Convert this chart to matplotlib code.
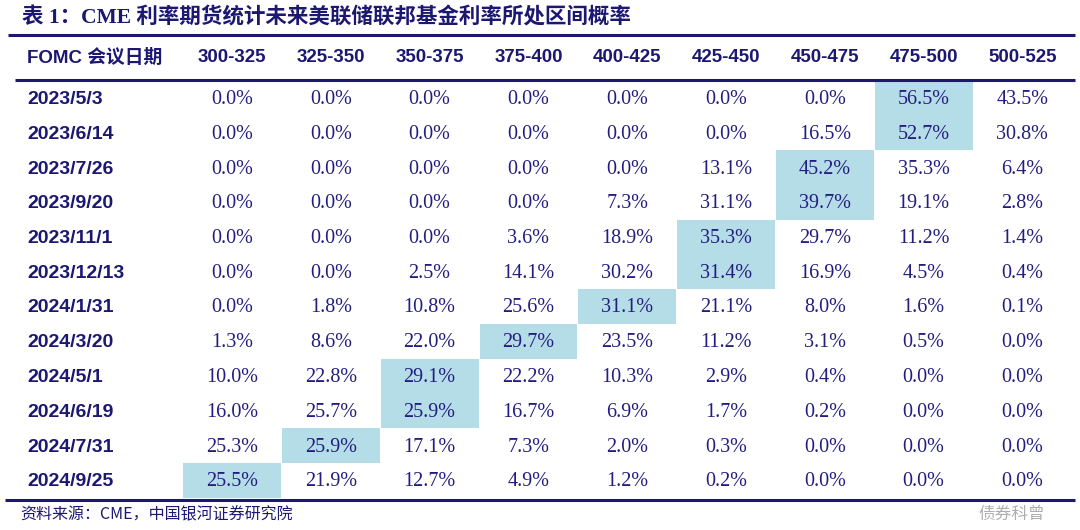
import matplotlib
matplotlib.use("Agg")
import matplotlib.pyplot as plt
from matplotlib.patches import Rectangle
import numpy as np

dates = ["2023/5/3", "2023/6/14", "2023/7/26", "2023/9/20", "2023/11/1", "2023/12/13",
         "2024/1/31", "2024/3/20", "2024/5/1", "2024/6/19", "2024/7/31", "2024/9/25"]
ranges = ["300-325", "325-350", "350-375", "375-400", "400-425", "425-450",
          "450-475", "475-500", "500-525"]
probs = [
    [0.0, 0.0, 0.0, 0.0, 0.0, 0.0, 0.0, 56.5, 43.5],
    [0.0, 0.0, 0.0, 0.0, 0.0, 0.0, 16.5, 52.7, 30.8],
    [0.0, 0.0, 0.0, 0.0, 0.0, 13.1, 45.2, 35.3, 6.4],
    [0.0, 0.0, 0.0, 0.0, 7.3, 31.1, 39.7, 19.1, 2.8],
    [0.0, 0.0, 0.0, 3.6, 18.9, 35.3, 29.7, 11.2, 1.4],
    [0.0, 0.0, 2.5, 14.1, 30.2, 31.4, 16.9, 4.5, 0.4],
    [0.0, 1.8, 10.8, 25.6, 31.1, 21.1, 8.0, 1.6, 0.1],
    [1.3, 8.6, 22.0, 29.7, 23.5, 11.2, 3.1, 0.5, 0.0],
    [10.0, 22.8, 29.1, 22.2, 10.3, 2.9, 0.4, 0.0, 0.0],
    [16.0, 25.7, 25.9, 16.7, 6.9, 1.7, 0.2, 0.0, 0.0],
    [25.3, 25.9, 17.1, 7.3, 2.0, 0.3, 0.0, 0.0, 0.0],
    [25.5, 21.9, 12.7, 4.9, 1.2, 0.2, 0.0, 0.0, 0.0],
]
title = "表 1：CME 利率期货统计未来美联储联邦基金利率所处区间概率"
header0 = "FOMC 会议日期"
source = "资料来源：CME，中国银河证券研究院"
watermark = "债券科曾"

NAVY = "#1c1872"
VALC = "#231d80"
HL = "#b5dde8"
CJK = ["Noto Sans CJK SC", "DejaVu Sans"]
SANS = ["Liberation Sans", "Noto Sans CJK SC"]
SERIF = ["Liberation Serif", "DejaVu Serif"]
TSERIF = ["Liberation Serif", "Noto Sans CJK SC"]

fig = plt.figure(figsize=(10.8, 5.3), dpi=100)
ax = fig.add_axes([0, 0, 1, 1])
ax.set_xlim(0, 1080)
ax.set_ylim(530, 0)
ax.axis("off")

col0 = 232.0
colw = 98.8
row0 = 98.0
rowh = 34.75
tdy = 1.5  # small vertical offset so glyphs sit centred in their cells

# title
ax.text(22, 18, title, family=TSERIF, fontsize=15.5, fontweight="bold", color=NAVY,
        va="center", ha="left")
ax.plot([8, 1075], [34.5, 34.5], color=NAVY, lw=2.2, solid_capstyle="butt")

# header
ax.text(27, 56 + tdy, header0, family=SANS, fontsize=13.5, fontweight="bold", color=NAVY,
        va="center", ha="left")
for j, r in enumerate(ranges):
    ax.text(col0 + j * colw, 56 + tdy, r, family=SANS, fontsize=13.5, fontweight="bold",
            color=NAVY, va="center", ha="center")
ax.plot([15, 1075], [80, 80], color=NAVY, lw=2.2, solid_capstyle="butt")

# rows
arr = np.array(probs)
for i, d in enumerate(dates):
    y = row0 + i * rowh
    ax.text(27, y + tdy, d, family=SANS, fontsize=14, fontweight="bold", color=NAVY,
            va="center", ha="left")
    jmax = int(np.argmax(arr[i]))
    for j, v in enumerate(probs[i]):
        x = col0 + j * colw
        if j == jmax:
            ax.add_patch(Rectangle((x - colw / 2 + 0.5, y - rowh / 2), colw - 1, rowh,
                                   facecolor=HL, edgecolor="none", zorder=0))
        ax.text(x, y + tdy, f"{v:.1f}%", family=SERIF, fontsize=14.5, color=VALC,
                va="center", ha="center", zorder=2)

ax.plot([5, 1075], [500, 500], color=NAVY, lw=2.2, solid_capstyle="butt")

# source
ax.text(20, 515, source, family=CJK, fontsize=11.5, style="italic", color=NAVY,
        va="center", ha="left")

# watermark (placed just below the table so it does not cover the values)
ax.text(1045, 514, watermark, family=CJK, fontsize=12, color="#9a9a9a", alpha=0.8,
        va="center", ha="right", zorder=3)

fig.savefig("out.png", dpi=100)
